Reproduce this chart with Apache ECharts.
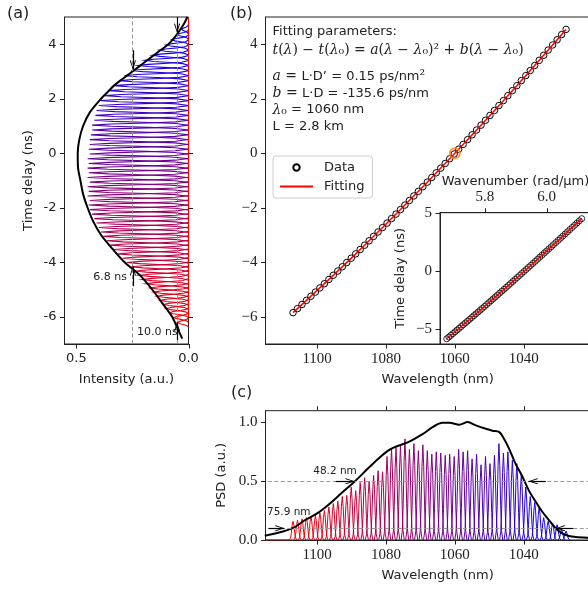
<!DOCTYPE html>
<html><head><meta charset="utf-8">
<script src="https://cdn.jsdelivr.net/npm/echarts@6.0.0/dist/echarts.min.js"></script>
<style>html,body{margin:0;padding:0;background:#fff}#c{width:588px;height:590px}</style>
</head><body><div id="c"></div>
<script>
// ---------------- data ----------------
const wavelengths = [1107.0,1105.7,1104.4,1103.1,1101.8,1100.5,1099.2,1097.9,1096.6,1095.3,1094.0,1092.7,1091.4,1090.1,1088.8,1087.5,1086.2,1084.9,1083.6,1082.3,1081.0,1079.7,1078.4,1077.1,1075.8,1074.5,1073.2,1071.9,1070.6,1069.3,1068.0,1066.7,1065.4,1064.1,1062.8,1061.5,1060.2,1058.9,1057.6,1056.3,1055.0,1053.7,1052.4,1051.1,1049.8,1048.5,1047.2,1045.9,1044.6,1043.3,1042.0,1040.7,1039.4,1038.1,1036.8,1035.5,1034.2,1032.9,1031.6,1030.3,1029.0,1027.7];
const delays = [-5.850,-5.700,-5.550,-5.399,-5.247,-5.095,-4.942,-4.788,-4.633,-4.478,-4.322,-4.166,-4.009,-3.851,-3.692,-3.533,-3.373,-3.212,-3.051,-2.889,-2.726,-2.562,-2.398,-2.233,-2.068,-1.901,-1.734,-1.567,-1.398,-1.229,-1.060,-0.889,-0.718,-0.546,-0.374,-0.201,-0.027,0.148,0.323,0.499,0.676,0.853,1.031,1.210,1.389,1.569,1.750,1.932,2.114,2.297,2.480,2.665,2.849,3.035,3.221,3.409,3.596,3.785,3.974,4.164,4.354,4.545];
const wavenumbers = [5.6759,5.6826,5.6893,5.6960,5.7027,5.7094,5.7161,5.7229,5.7297,5.7365,5.7433,5.7501,5.7570,5.7639,5.7707,5.7776,5.7846,5.7915,5.7985,5.8054,5.8124,5.8194,5.8264,5.8335,5.8405,5.8476,5.8547,5.8618,5.8689,5.8760,5.8832,5.8904,5.8975,5.9047,5.9120,5.9192,5.9264,5.9337,5.9410,5.9483,5.9556,5.9630,5.9704,5.9777,5.9851,5.9926,6.0000,6.0075,6.0150,6.0224,6.0300,6.0375,6.0450,6.0526,6.0602,6.0678,6.0754,6.0831,6.0907,6.0984,6.1061,6.1139];
const peakHeights = [0.16,0.17,0.18,0.19,0.20,0.21,0.23,0.25,0.28,0.31,0.33,0.37,0.38,0.45,0.42,0.49,0.53,0.50,0.55,0.59,0.58,0.71,0.78,0.79,0.80,0.86,0.77,0.82,0.76,0.81,0.76,0.73,0.75,0.74,0.72,0.73,0.71,0.77,0.75,0.76,0.69,0.73,0.64,0.71,0.65,0.72,0.82,0.74,0.75,0.68,0.65,0.56,0.45,0.37,0.32,0.28,0.19,0.16,0.14,0.13,0.09,0.076];
const extraTraceDelays = [-6.21,-6.03];
const traceAmps = [0.05,0.065,0.085,0.10,0.11,0.125,0.14,0.155,0.17,0.19,0.205,0.22,0.235,0.255,0.275,0.295,0.315,0.335,0.35,0.365,0.38,0.39,0.40,0.41,0.42,0.43,0.44,0.445,0.44,0.45,0.445,0.45,0.44,0.45,0.445,0.45,0.445,0.45,0.44,0.445,0.44,0.44,0.435,0.43,0.43,0.42,0.415,0.41,0.40,0.39,0.375,0.355,0.335,0.31,0.285,0.255,0.225,0.195,0.16,0.13,0.10,0.075,0.05,0.03];
const traceEnvDelay = [5.0,4.75,4.5,4.25,4.0,3.75,3.5,3.25,3.0,2.75,2.5,2.25,2.0,1.5,1.0,0.5,0.0,-0.5,-1.0,-1.5,-2.0,-2.5,-3.0,-3.5,-4.0,-4.5,-5.0,-5.5,-6.0,-6.5,-6.8];
const traceEnvIntensity = [0.005,0.02,0.04,0.062,0.09,0.13,0.17,0.21,0.25,0.29,0.33,0.36,0.39,0.44,0.47,0.487,0.494,0.493,0.482,0.47,0.45,0.425,0.39,0.34,0.285,0.214,0.162,0.117,0.073,0.045,0.028];
const psdWavelength = [1115.2,1110.2,1106.5,1103.5,1100.0,1096.7,1092.9,1089.0,1085.2,1082.3,1079.4,1077.5,1073.7,1069.4,1066.5,1063.6,1061.6,1058.7,1056.3,1053.9,1051.0,1049.1,1047.1,1045.7,1044.3,1042.4,1040.4,1038.5,1036.5,1034.6,1032.7,1030.7,1028.8,1026.9,1024.9,1021.5,1015.0];
const psdValue = [0.037,0.07,0.11,0.17,0.226,0.30,0.40,0.50,0.61,0.69,0.76,0.79,0.83,0.90,0.96,0.997,0.997,0.98,1.003,0.975,0.946,0.93,0.918,0.86,0.78,0.65,0.54,0.42,0.325,0.24,0.17,0.10,0.056,0.034,0.025,0.02,0.015];
const fitWavelength = [1107.0,1090.0,1075.0,1060.0,1045.0,1027.7];
const fitDelay = [-5.85,-3.838,-1.965,0,2.058,4.545];
const fitWavenumber = [5.6759,5.7644,5.8448,5.9275,6.0126,6.1138];
const lambda0 = 1060, delay0 = 0;
const intensityLevels = [0.248, 0.05];
const psdLevels = [0.5, 0.1];
const timeTicks = [-6,-4,-2,0,2,4];
const intensityTicks = [0, 0.5];
const wlTicks = [1040,1060,1080,1100];
const insetKTicks = [5.8, 6.0];
const insetTTicks = [-5, 0, 5];
const psdTicks = [0, 0.5, 1.0];
// arrows: [x tail, y tail, x tip, y tip]
const arrowsA = [[0.248,3.78,0.248,3.07],[0.051,5.0,0.051,4.42],[0.248,-4.88,0.248,-4.15],[0.051,-6.85,0.051,-6.2]];
const arrowsC = [[1094.6,0.5,1089.1,0.5],[1033.6,0.5,1038.6,0.5],[1114.1,0.1,1109.5,0.1],[1025.6,0.1,1030.7,0.1]];

// ---------------- layout / styling ----------------
const SANS = 'DejaVu Sans', SERIF = 'Liberation Serif', MATH = 'DejaVu Serif', INK = '#222';
const G = [
  {left:64.5, top:17, width:124, height:327},     // (a)
  {left:265.5, top:17, width:344.3, height:327},  // (b)
  {left:440, top:212.7, width:151, height:131.3}, // inset
  {left:265.5, top:410.7, width:344.3, height:129.3} // (c)
];
const TL = 4.5; // tick length
const CHEV = 'path://M5,-14 L5.02,-14 L5,-13.98 Z M5,0 L10,13 L8.7,14 L5,3.6 L1.3,14 L0,13 Z';
const minus = v => (v < 0 ? '\u2212' + (-v) : '' + v);
function grad(f){ return 'rgb(' + Math.round(255*(1-f)) + ',0,' + Math.round(255*f) + ')'; }
function ax(o, ticks, fmt, font){
  return Object.assign({
    type:'value', splitLine:{show:false},
    axisLine:{show:true, onZero:false, lineStyle:{color:INK, width:1}},
    axisTick:{show:false},
    axisLabel:{show:!!fmt, customValues:ticks, formatter:fmt||(()=>''), color:INK, fontSize: font===SANS?13:15, fontFamily:font||SANS, margin:8},
    nameLocation:'middle', nameTextStyle:{color:INK, fontSize:13, fontFamily:SANS}
  }, o);
}
const gridBox = {show:true, borderColor:INK, borderWidth:1, backgroundColor:'#fff', containLabel:false, outerBoundsMode:'none'};

// ---------------- build shapes ----------------
const tOff = [-0.18,-0.12,-0.08,-0.04,0,0.04,0.08,0.12,0.18];
const tShape = [0,0.135,0.41,0.8,1,0.8,0.41,0.135,0];
const traceDelays = extraTraceDelays.concat(delays);
const nT = traceDelays.length;
const pulseItems = [];
for (let k = nT-1; k >= 0; k--) {
  const coords = tOff.map((o,j)=>[traceAmps[k]*tShape[j], traceDelays[k]+o]);
  if (k === 0) coords.push([0, 5]);
  pulseItems.push({coords, lineStyle:{color:grad(k/(nT-1))}});
}
const wOff = [-1.1,-0.75,-0.5,-0.25,0,0.25,0.5,0.75,1.1];
const wShape = [0,0.10,0.36,0.775,1,0.775,0.36,0.10,0];
const nP = wavelengths.length;
const peakItems = [];
for (let i = 0; i < nP; i++) {
  const coords = wOff.map((o,j)=>[wavelengths[i]+o, peakHeights[i]*wShape[j]]);
  if (i === 0) coords.push([1115, 0]);
  peakItems.push({coords, lineStyle:{color:grad(i/(nP-1))}});
}
function arrowData(list){ return list.map(a=>[{coord:[a[0],a[1]]},{coord:[a[2],a[3]]}]); }
const arrowMark = list => ({silent:true, symbol:['none',CHEV], symbolSize:[6,19],
  lineStyle:{color:'#000', width:1.2, type:'solid'}, label:{show:false}, data:arrowData(list), animation:false});
const dashStyle = {type:[4,2.5], color:'#999', width:1};

function txt(x,y,text,o){
  return Object.assign({type:'text', x, y, silent:true, z:100,
    style:Object.assign({text, fill:INK, fontFamily:SANS, fontSize:13, textAlign:'left', align:'left', textVerticalAlign:'middle', verticalAlign:'middle'}, o||{})});
}
const richM = {
  t:{fontFamily:SANS, fontSize:13, color:INK},
  i:{fontFamily:MATH, fontStyle:'italic', fontSize:14, color:INK},
  n:{fontFamily:MATH, fontSize:14, color:INK}
};
const texts = [
  txt(7,14,'(a)',{fontSize:16}),
  txt(230,14,'(b)',{fontSize:16}),
  txt(231,393,'(c)',{fontSize:16}),
  txt(272.5,32,'Fitting parameters:'),
  txt(272.5,50,'{i|t}{n|(}{i|λ}{n|) − }{i|t}{n|(}{i|λ}{n|₀) = }{i|a}{n|(}{i|λ}{n| − }{i|λ}{n|₀)² + }{i|b}{n|(}{i|λ}{n| − }{i|λ}{n|₀)}',{rich:richM}),
  txt(272.5,76.5,'{i|a}{n| = }{t|L·D’ = 0.15 ps/nm}{n|²}',{rich:richM}),
  txt(272.5,93.5,'{i|b}{n| = }{t|L·D = -135.6 ps/nm}',{rich:richM}),
  txt(272.5,110,'{i|λ}{n|₀}{t| = 1060 nm}',{rich:richM}),
  txt(272.5,126.5,'L = 2.8 km'),
  txt(127,277.5,'6.8 ns',{fontSize:11, textAlign:'right', align:'right'}),
  txt(137,332,'10.0 ns',{fontSize:11}),
  txt(335,471.5,'48.2 nm',{fontSize:10.5, textAlign:'center', align:'center'}),
  txt(267,512.5,'75.9 nm',{fontSize:10.5})
];

const wlRange = {min:1015, max:1115, inverse:true};
const option = {
  animation:false,
  backgroundColor:'#fff',
  grid: G.map(g => Object.assign({}, g, gridBox)),
  xAxis:[
    ax({gridIndex:0, min:0, max:0.553, inverse:true, position:'bottom', name:'Intensity (a.u.)', nameGap:29}, intensityTicks, v=>v.toFixed(1), SANS),
    ax(Object.assign({gridIndex:1, position:'bottom', name:'Wavelength (nm)', nameGap:29}, wlRange), wlTicks, v=>''+v, SERIF),
    ax({gridIndex:2, min:5.654, max:6.144, position:'top', name:'Wavenumber (rad/\u03bcm)', nameGap:25}, insetKTicks, v=>v.toFixed(1), SERIF),
    ax(Object.assign({gridIndex:3, position:'bottom', name:'Wavelength (nm)', nameGap:29}, wlRange), wlTicks, v=>''+v, SERIF)
  ],
  yAxis:[
    ax({gridIndex:0, min:-7, max:5, position:'left', name:'Time delay (ns)', nameGap:29, nameRotate:90}, timeTicks, v=>''+v, SANS),
    ax({gridIndex:1, min:-7, max:5, position:'left'}, timeTicks, minus, SERIF),
    ax({gridIndex:2, min:-6.3, max:5.06, position:'left', name:'Time delay (ns)', nameGap:33, nameRotate:90}, insetTTicks, minus, SERIF),
    ax({gridIndex:3, min:0, max:1.1, position:'left', name:'PSD (a.u.)', nameGap:36, nameRotate:90}, psdTicks, v=>v.toFixed(1), SERIF)
  ],
  legend:{
    data:[{name:'Data'}, {name:'Fitting', itemStyle:{opacity:0}}], orient:'vertical', left:273, top:156,
    padding:[5,8,5,6], itemGap:6, itemWidth:33, itemHeight:8,
    borderColor:'#ccc', borderWidth:1, borderRadius:3, backgroundColor:'rgba(255,255,255,0.8)',
    textStyle:{fontFamily:SANS, fontSize:13, color:INK, padding:[0,0,0,6]}
  },
  series:[
    // (a)
    {type:'lines', coordinateSystem:'cartesian2d', xAxisIndex:0, yAxisIndex:0, polyline:true, silent:true,
     lineStyle:{width:1.1, opacity:1}, data:pulseItems, z:2},
    {type:'line', xAxisIndex:0, yAxisIndex:0, symbol:'none', smooth:0.3, z:4,
     data:traceEnvIntensity.map((v,i)=>[v, traceEnvDelay[i]]), lineStyle:{color:'#000', width:2},
     markLine:{silent:true, symbol:'none', lineStyle:dashStyle, label:{show:false}, data:intensityLevels.map(v=>({xAxis:v}))}},
    {type:'line', xAxisIndex:0, yAxisIndex:0, symbol:'none', data:[], z:5, markLine:arrowMark(arrowsA)},
    // (b)
    {name:'Data', type:'line', xAxisIndex:1, yAxisIndex:1, data:wavelengths.map((w,i)=>[w, delays[i]]),
     symbol:'circle', symbolSize:6.5, showSymbol:true, lineStyle:{opacity:0, width:0},
     itemStyle:{color:'rgba(255,255,255,0)', borderColor:'#000', borderWidth:1}, z:3},
    {name:'Fitting', type:'line', xAxisIndex:1, yAxisIndex:1, data:fitWavelength.map((w,i)=>[w, fitDelay[i]]),
     symbol:'none', smooth:0.4, lineStyle:{color:'#ff0000', width:1.5}, itemStyle:{color:'#ff0000'}, z:4},
    {type:'scatter', xAxisIndex:1, yAxisIndex:1, data:[[lambda0, delay0]], symbol:'circle', symbolSize:10,
     itemStyle:{color:'rgba(255,255,255,0)', borderColor:'#ff7f0e', borderWidth:2}, z:5},
    // inset
    {name:'DataInset', type:'scatter', xAxisIndex:2, yAxisIndex:2, data:wavenumbers.map((k,i)=>[k, delays[i]]),
     symbol:'circle', symbolSize:6, itemStyle:{color:'rgba(255,255,255,0)', borderColor:'#000', borderWidth:1}, z:6},
    {name:'FitInset', type:'line', xAxisIndex:2, yAxisIndex:2, data:fitWavenumber.map((k,i)=>[k, fitDelay[i]]),
     symbol:'none', smooth:0.4, lineStyle:{color:'#ff0000', width:1.5}, z:7},
    // (c)
    {type:'lines', coordinateSystem:'cartesian2d', xAxisIndex:3, yAxisIndex:3, polyline:true, silent:true,
     lineStyle:{width:1, opacity:1}, data:peakItems, z:2},
    {type:'line', xAxisIndex:3, yAxisIndex:3, symbol:'none', smooth:0.3, z:4,
     data:psdWavelength.map((w,i)=>[w, psdValue[i]]), lineStyle:{color:'#000', width:2},
     markLine:{silent:true, symbol:'none', lineStyle:dashStyle, label:{show:false}, data:psdLevels.map(v=>({yAxis:v}))}},
    {type:'line', xAxisIndex:3, yAxisIndex:3, symbol:'none', data:[], z:5, markLine:arrowMark(arrowsC)}
  ],
  graphic: texts
};
const chart = echarts.init(document.getElementById('c'), null, {renderer:'canvas'});
chart.setOption(option);

// ---- tick marks, placed with the library's own axis scales ----
// [axisType, axisIndex, values, grid, side]
const tickSpecs = [
  ['x',0,intensityTicks,0,'bottom'], ['y',0,timeTicks,0,'left'], ['y',0,timeTicks,0,'right'],
  ['x',1,wlTicks,1,'bottom'], ['y',1,timeTicks,1,'left'],
  ['x',2,insetKTicks,2,'top'], ['y',2,insetTTicks,2,'left'],
  ['x',3,wlTicks,3,'bottom'], ['x',3,wlTicks,3,'top'], ['y',3,psdTicks,3,'left']
];
const tickEls = [];
tickSpecs.forEach(([t, idx, vals, gi, side]) => {
  const g = G[gi];
  vals.forEach(v => {
    let s;
    if (t === 'x') {
      const px = Math.round(chart.convertToPixel({xAxisIndex:idx}, v)) + 0.5;
      const y0 = side === 'bottom' ? g.top + g.height : g.top;
      const y1 = side === 'bottom' ? y0 + TL : y0 - TL;
      s = {x1:px, y1:y0, x2:px, y2:y1};
    } else {
      const py = Math.round(chart.convertToPixel({yAxisIndex:idx}, v)) + 0.5;
      const x0 = side === 'left' ? g.left : g.left + g.width;
      const x1 = side === 'left' ? x0 - TL : x0 + TL;
      s = {x1:x0, y1:py, x2:x1, y2:py};
    }
    tickEls.push({type:'line', silent:true, z:50, shape:s, style:{stroke:INK, lineWidth:1}});
  });
});
chart.setOption({graphic: texts.concat(tickEls)});
</script></body></html>
